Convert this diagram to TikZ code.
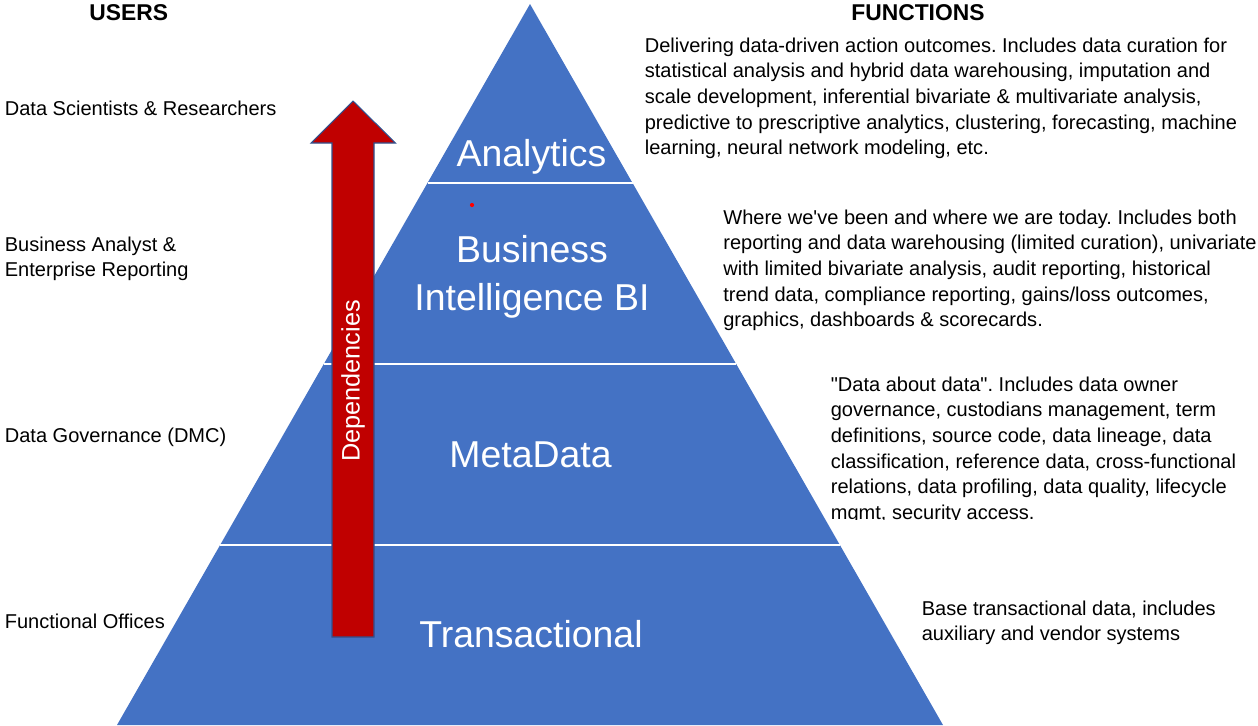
\documentclass[tikz,border=0pt]{standalone}
\usepackage{fontspec}
\setmainfont{Liberation Sans}[Ligatures=TeXOff]
\frenchspacing
\usetikzlibrary{positioning}
\definecolor{PyrBlue}{RGB}{68,114,196}
\definecolor{DepRed}{RGB}{192,0,0}
\definecolor{DepEdge}{RGB}{47,82,143}
\definecolor{DotRed}{RGB}{255,0,0}

\begin{document}
\begin{tikzpicture}[
x=0.02cm,y=-0.02cm,
head/.style={anchor=base west,inner sep=0pt,font=\fontsize{13}{15}\selectfont\bfseries},
user/.style={anchor=base west,inner sep=0pt,align=left,font=\fontsize{11.4}{14.6}\selectfont},
desc/.style={anchor=north west,inner sep=0pt,align=left,font=\fontsize{11.4}{14.6}\selectfont},
lvl/.style={text=white,inner sep=0pt,align=center,font=\fontsize{21.3}{27.3}\selectfont},
sep/.style={draw=white,line width=1.2pt}
]
\useasboundingbox (0,0) rectangle (1258,725);
\clip (0,0) rectangle (1258,725);

% pyramid and its tiers
\coordinate (apex) at (530,4);
\coordinate (bl) at (117,725);
\coordinate (br) at (943,725);
\fill[PyrBlue] (apex) -- (br) -- (bl) -- cycle;
\draw[sep] (427.5,183) -- (632.5,183);
\draw[sep] (323.8,364) -- (736.2,364);
\draw[sep] (220.1,545) -- (839.9,545);

\node[lvl] (ana) at (531.5,157) {Analytics};
\node[lvl] (bi) at (532,277) {Business\\Intelligence BI};
\node[lvl] (meta) at (530.5,455) {MetaData};
\node[lvl] (trans) at (531,634) {Transactional};
\fill[DotRed] (472,205) circle (1.2pt);

% dependency arrow
\filldraw[fill=DepRed,draw=DepEdge,line width=0.6pt]
  (353,101) -- (395.5,143) -- (374,143) -- (374,637)
  -- (332,637) -- (332,143) -- (311,143) -- cycle;
\node[rotate=90,text=white,inner sep=0pt,font=\fontsize{14.4}{17}\selectfont] (dep) at (353,381) {Dependencies};

% column heads
\node[head] (users) at (89,20.5) {USERS};
\node[head] (funcs) at (851,20.5) {FUNCTIONS};

% users
\node[user] (u1) at (4.5,115) {Data Scientists \& Researchers};
\node[desc] (u2) at (4.5,236.4) {Business Analyst \&\\Enterprise Reporting};
\node[user] (u3) at (4.5,442) {Data Governance (DMC)};
\node[user] (u4) at (4.5,628) {Functional Offices};

% functions
\node[desc] (f1) at (644.5,37.4) {Delivering data-driven action outcomes. Includes data curation for\\
statistical analysis and hybrid data warehousing, imputation and\\
scale development, inferential bivariate \& multivariate analysis,\\
predictive to prescriptive analytics, clustering, forecasting, machine\\
learning, neural network modeling, etc.};
\node[desc] (f2) at (723,209.4) {Where we've been and where we are today. Includes both\\
reporting and data warehousing (limited curation), univariate\\
with limited bivariate analysis, audit reporting, historical\\
trend data, compliance reporting, gains/loss outcomes,\\
graphics, dashboards \& scorecards.};
\begin{scope}
\clip (820,360) rectangle (1258,519);
\node[desc] (f3) at (830.5,376.4) {"Data about data". Includes data owner\\
governance, custodians management, term\\
definitions, source code, data lineage, data\\
classification, reference data, cross-functional\\
relations, data profiling, data quality, lifecycle\\
mgmt, security access.};
\end{scope}
\node[desc] (f4) at (921.5,600.4) {Base transactional data, includes\\
auxiliary and vendor systems};
\end{tikzpicture}
\end{document}
